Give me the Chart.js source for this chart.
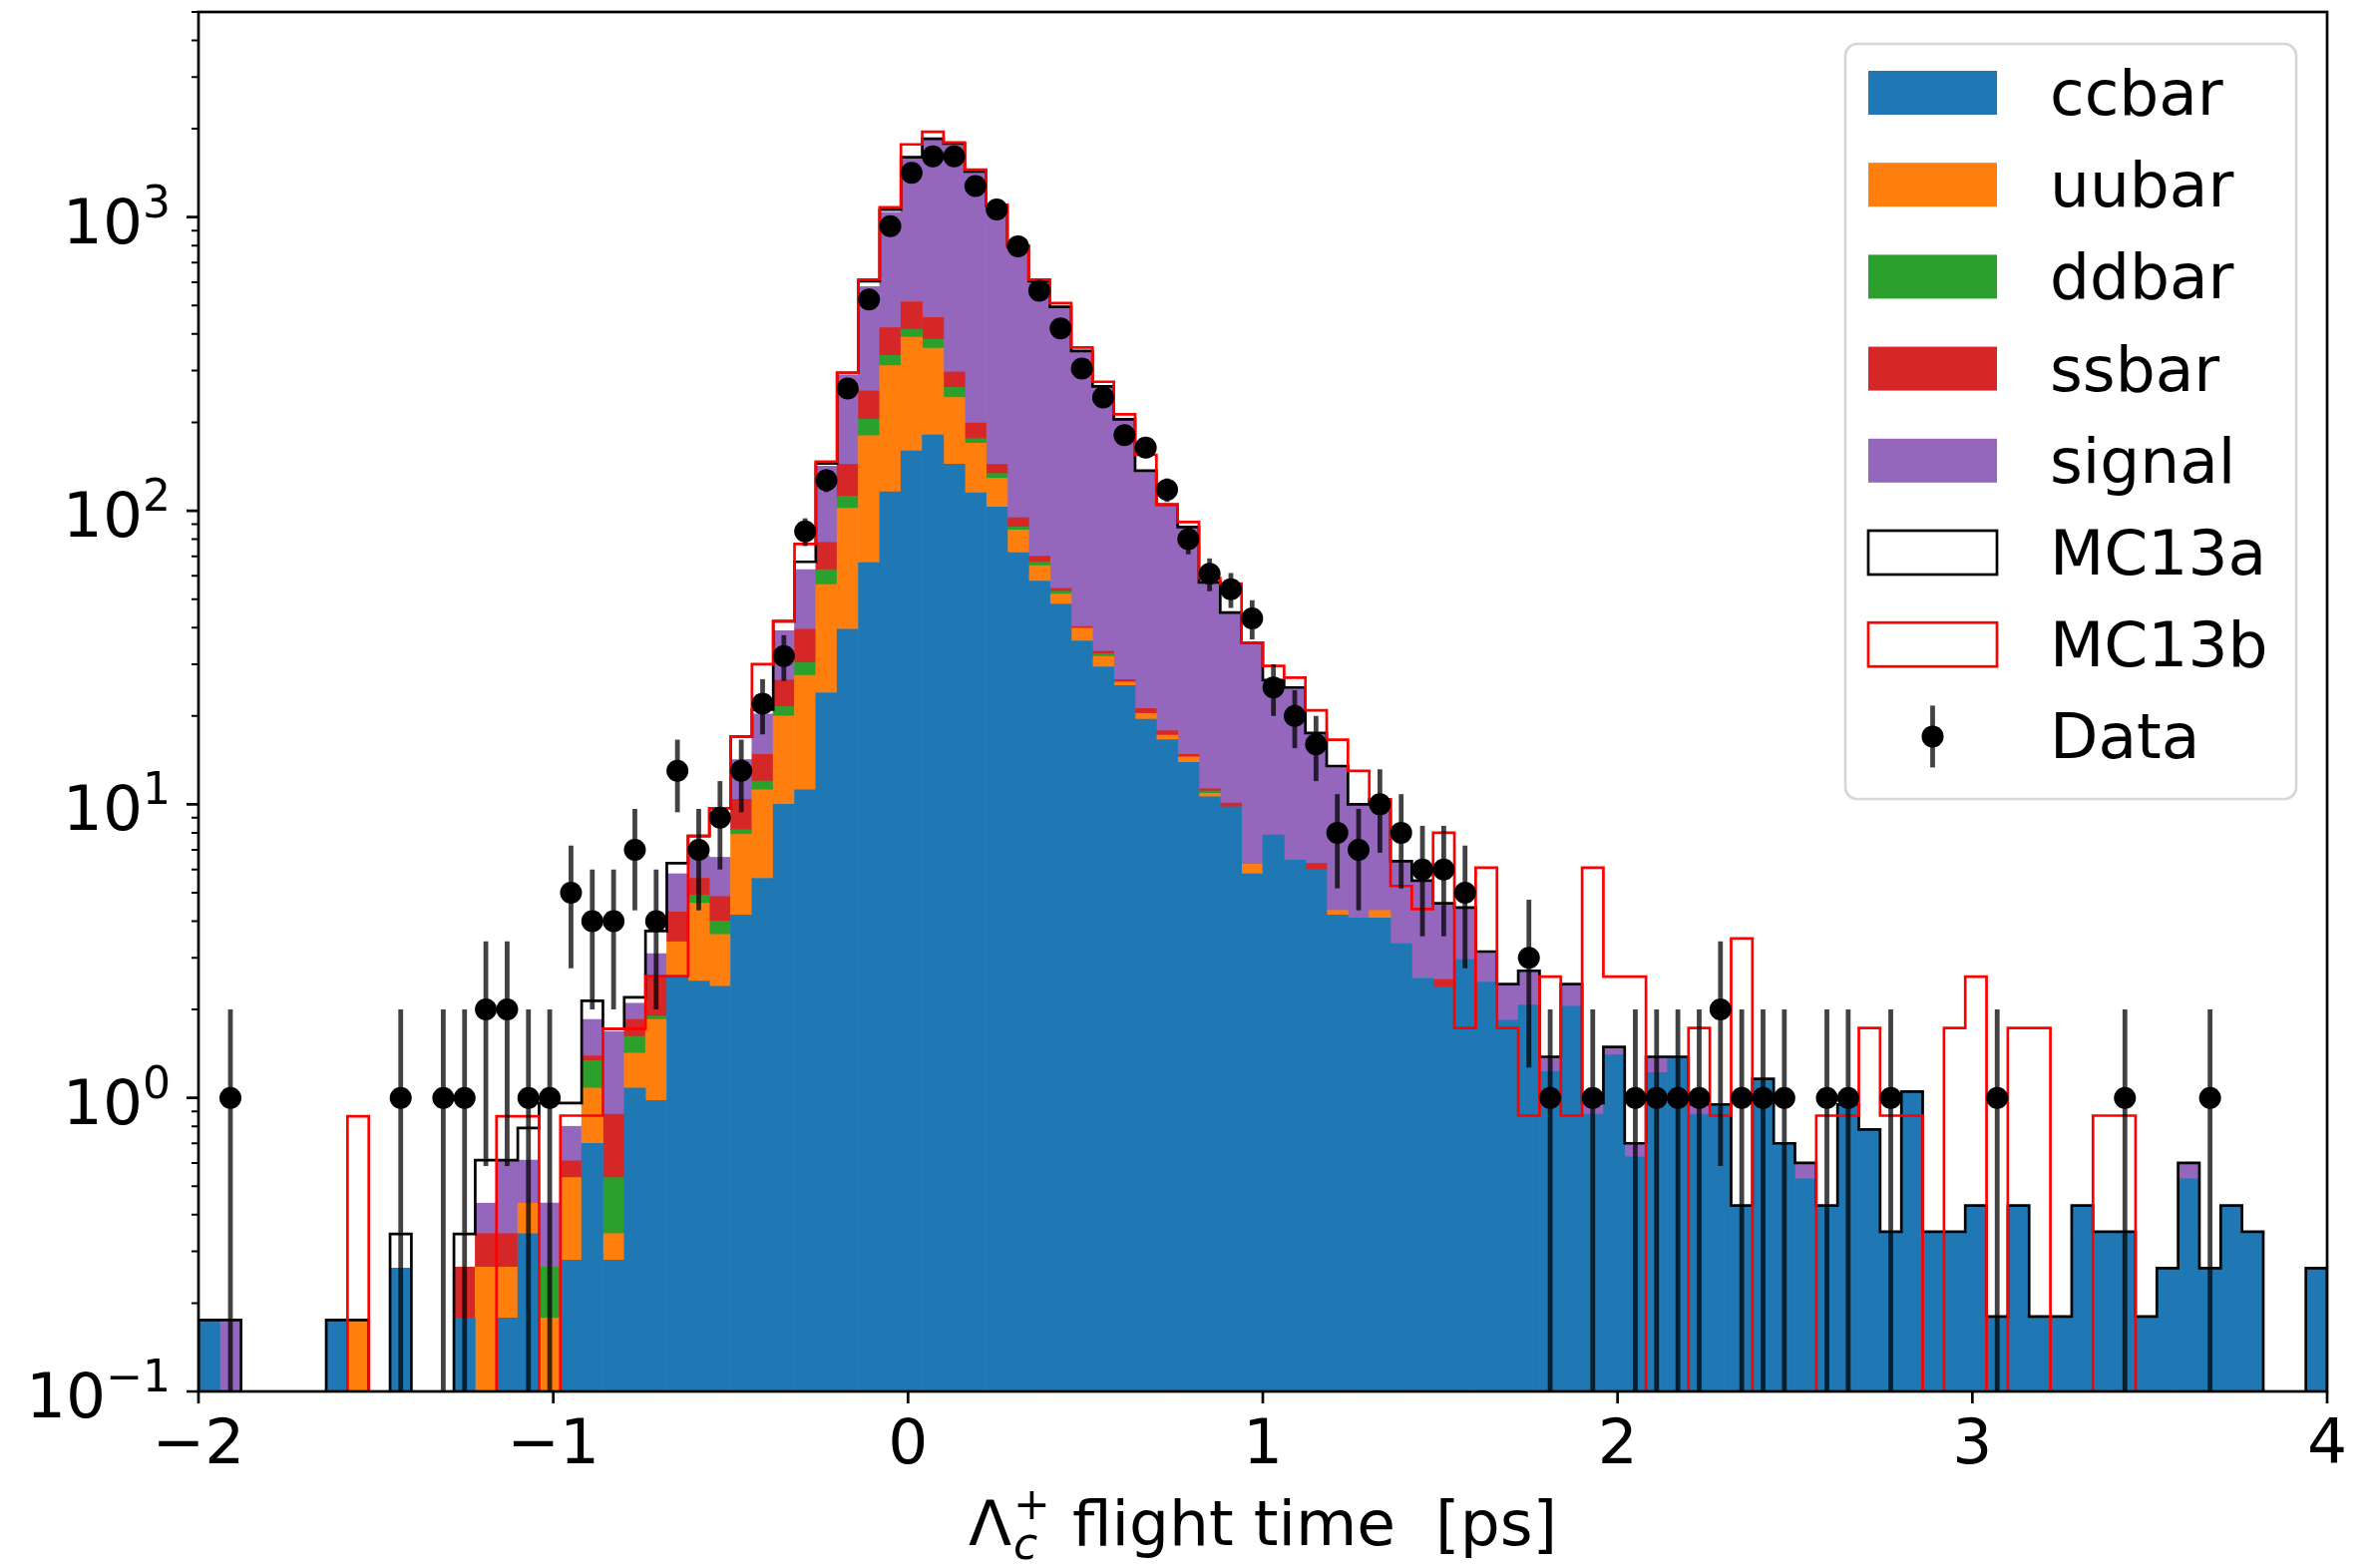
<!DOCTYPE html>
<html>
<head>
<meta charset="utf-8">
<title>Lambda_c flight time</title>
<script src="https://cdn.jsdelivr.net/npm/chart.js@4.4.1/dist/chart.umd.min.js"></script>
<style>
  html, body { margin: 0; padding: 0; background: #fff; }
  #wrap { position: relative; width: 2386px; height: 1570px; }
</style>
</head>
<body>
<div id="wrap"><canvas id="flightTime"></canvas></div>
<script>
// binning of the flight-time histogram (100 bins of 0.06 ps)
const BIN_LOW = -2;
const BIN_WIDTH = 0.06;
const X_TICKS = [-2, -1, 0, 1, 2, 3, 4];
const Y_DECADES = [-1, 0, 1, 2, 3];
const Y_MIN = 0.1;
const Y_MAX = 5000;

// stacked MC components, weighted entries per bin
const CCBAR = [
  .175, 0, 0, 0, 0, 0, .175, 0, 0, .263,
  0, 0, .178, 0, .178, .345, 0, .28, .70, .28,
  1.08, .98, 2.6, 2.5, 2.4, 4.2, 5.6, 10, 11.2, 24,
  39.5, 66.5, 116, 160, 181, 144, 115, 103, 72, 57.6,
  48.1, 36, 29.4, 25.4, 19.5, 16.6, 13.9, 10.6, 9.8, 5.8,
  7.86, 6.45, 6.0, 4.2, 4.1, 4.1, 3.35, 2.56, 2.38, 2.97,
  2.48, 1.84, 2.07, 1.23, 2.05, .88, 1.40, .63, 1.22, 1.38,
  .88, .95, .43, 1.16, .70, .53, .43, .95, .78, .35,
  1.05, .35, .35, .43, .18, .43, .18, .18, .43, .35,
  .35, .18, .263, .53, .263, .43, .35, 0, 0, .263
];
const UUBAR = [
  0, 0, 0, 0, 0, 0, 0, .175, 0, 0,
  0, 0, 0, .265, .087, .093, .178, .255, .38, .065,
  .34, .87, .8, 2.1, 1.2, 3.7, 5.6, 10, 16.3, 32,
  62.5, 113.5, 196, 230, 177, 99, 55, 26, 14, 7.4,
  3.9, 3.8, 2.5, .7, .9, .6, .6, .3, 0, .45,
  0, 0, 0, .15, 0, .25, 0, 0, 0, 0,
  0, 0, 0, 0, 0, 0, 0, 0, 0, 0,
  0, 0, 0, 0, 0, 0, 0, 0, 0, 0,
  0, 0, 0, 0, 0, 0, 0, 0, 0, 0,
  0, 0, 0, 0, 0, 0, 0, 0, 0, 0
];
const DDBAR = [
  0, 0, 0, 0, 0, 0, 0, 0, 0, 0,
  0, 0, 0, 0, 0, 0, .087, 0, .26, .19,
  .2, .05, 0, .3, .4, .3, .8, 1.5, 2.9, 7,
  10, 25, 26, 25, 26, 20, 6, 5, 2, 2,
  1.2, 0, .7, 0, 0, 0, 0, .2, 0, 0,
  0, 0, 0, 0, 0, 0, 0, 0, 0, 0,
  0, 0, 0, 0, 0, 0, 0, 0, 0, 0,
  0, 0, 0, 0, 0, 0, 0, 0, 0, 0,
  0, 0, 0, 0, 0, 0, 0, 0, 0, 0,
  0, 0, 0, 0, 0, 0, 0, 0, 0, 0
];
const SSBAR = [
  0, 0, 0, 0, 0, 0, 0, 0, 0, 0,
  0, 0, .087, .08, .08, 0, 0, .075, .05, .345,
  .23, .7, .9, .7, .85, 2.2, 2.8, 5, 9.1, 15,
  32, 51, 82, 100, 71, 34, 23, 10, 6.7, 3,
  1.2, .5, .6, .5, .8, .6, .3, .2, .3, 0,
  0, 0, .3, 0, 0, 0, 0, 0, .15, 0,
  0, 0, 0, 0, 0, 0, 0, 0, 0, 0,
  0, 0, 0, 0, 0, 0, 0, 0, 0, 0,
  0, 0, 0, 0, 0, 0, 0, 0, 0, 0,
  0, 0, 0, 0, 0, 0, 0, 0, 0, 0
];
const SIGNAL = [
  0, .175, 0, 0, 0, 0, 0, 0, 0, 0,
  0, 0, 0, .093, .27, .176, .173, .19, .46, .8,
  .25, .5, 1.5, 1.1, 1.75, 3.8, 5.5, 12.5, 23.5, 64,
  146, 324, 620, 1075, 1385, 1473, 1221, 946, 695, 530,
  440, 310, 232, 178, 116, 87, 73, 46, 35, 29,
  18.6, 18.5, 11.2, 9.2, 5.9, 6.1, 3.05, 2.94, 2.07, 1.48,
  .67, .6, .64, .15, .39, .08, .09, .07, .16, 0,
  .07, 0, 0, 0, 0, .07, 0, 0, 0, 0,
  0, 0, 0, 0, 0, 0, 0, 0, 0, 0,
  0, 0, 0, .07, 0, 0, 0, 0, 0, 0
];

// total MC of the two campaigns, drawn as step outlines
const MC13A = [
  .175, .175, 0, 0, 0, 0, .175, .175, 0, .344,
  0, 0, .344, .614, .614, .79, .96, .96, 2.14, 1.72,
  2.2, 3.7, 6.3, 7.8, 9.7, 17, 21, 42, 67, 145,
  295, 605, 1060, 1600, 1850, 1780, 1430, 1095, 800, 605,
  495, 350, 265, 205, 137, 105, 88, 57, 45, 35.5,
  26.5, 25, 17.5, 13.5, 10, 10.4, 6.4, 5.5, 4.6, 4.45,
  3.15, 2.44, 2.71, 1.38, 2.44, .96, 1.49, .70, 1.38, 1.38,
  .95, .95, .43, 1.16, .70, .60, .43, .95, .78, .35,
  1.05, .35, .35, .43, .18, .43, .18, .18, .43, .35,
  .35, .18, .263, .60, .263, .43, .35, 0, 0, .263
];
const MC13B = [
  0, 0, 0, 0, 0, 0, 0, .865, 0, 0,
  0, 0, 0, 0, .865, .865, 0, .87, .87, 1.72,
  1.72, 2.6, 2.6, 7.8, 9.7, 17, 30, 42, 77, 147,
  295, 613, 1080, 1770, 1953, 1795, 1452, 1102, 790, 613,
  510, 360, 275, 213, 155, 105, 91.5, 59, 56.5, 35.5,
  29.6, 27, 20.9, 16.6, 13, 10.4, 5.27, 4.4, 8.0, 1.73,
  6.08, 1.73, .87, 2.59, .87, 6.08, 2.59, 2.59, 0, 0,
  1.73, .87, 3.49, 0, 0, 0, .87, .87, 1.73, .87,
  .87, 0, 1.73, 2.59, 0, 1.73, 1.73, 0, 0, .87,
  .87, 0, 0, 0, 0, 0, 0, 0, 0, 0
];

// data counts per bin
const DATA = [
  0, 1, 0, 0, 0, 0, 0, 0, 0, 1,
  0, 1, 1, 2, 2, 1, 1, 5, 4, 4,
  7, 4, 13, 7, 9, 13, 22, 32, 85, 127,
  261, 524, 932, 1417, 1612, 1612, 1276, 1062, 796, 562,
  418, 305, 243, 181, 164, 118, 80, 61, 54, 43,
  25, 20, 16, 8, 7, 10, 8, 6, 6, 5,
  0, 0, 3, 1, 0, 1, 0, 1, 1, 1,
  1, 2, 1, 1, 1, 0, 1, 1, 0, 1,
  0, 0, 0, 0, 1, 0, 0, 0, 0, 0,
  1, 0, 0, 0, 1, 0, 0, 0, 0, 0
];

const FONT = '"DejaVu Sans", sans-serif';
const TEXT_PX = 63;
const SCRIPT_PX = 44;
const MAJOR_TICK = 12;
const MINOR_TICK = 7;
const MARKER_R = 11;
const BAR_LW = 4.8;
const BELOW_AXIS = 1e-3; // empty bins on the log axis: pushed under the frame

const STACK = [
  { label: "ccbar", values: CCBAR, color: "#1f77b4" },
  { label: "uubar", values: UUBAR, color: "#ff7f0e" },
  { label: "ddbar", values: DDBAR, color: "#2ca02c" },
  { label: "ssbar", values: SSBAR, color: "#d62728" },
  { label: "signal", values: SIGNAL, color: "#9467bd" }
];

const binCenters = CCBAR.map((_, i) => +(BIN_LOW + BIN_WIDTH * (i + 0.5)).toFixed(2));

// histtype=step style outline: corners at every bin edge
function stepOutline(values) {
  const pts = [{ x: BIN_LOW, y: BELOW_AXIS }];
  values.forEach((v, i) => {
    const lo = BIN_LOW + BIN_WIDTH * i;
    const y = v > 0 ? v : BELOW_AXIS;
    pts.push({ x: lo, y }, { x: lo + BIN_WIDTH, y });
  });
  pts.push({ x: BIN_LOW + BIN_WIDTH * values.length, y: BELOW_AXIS });
  return pts;
}

const datasets = STACK.map(s => ({
  type: "bar",
  label: s.label,
  data: binCenters.map((x, i) => ({ x, y: s.values[i] > 0 ? s.values[i] : null })),
  backgroundColor: s.color,
  borderWidth: 0,
  stack: "mc",
  order: 3,
  barPercentage: 1,
  categoryPercentage: 1
}));

datasets.push({
  type: "line",
  label: "MC13a",
  data: stepOutline(MC13A),
  borderColor: "#000000",
  borderWidth: 2.7,
  pointRadius: 0,
  tension: 0,
  fill: false,
  order: 2
});

datasets.push({
  type: "line",
  label: "MC13b",
  data: stepOutline(MC13B),
  borderColor: "#ff0000",
  borderWidth: 2.7,
  pointRadius: 0,
  tension: 0,
  fill: false,
  order: 1
});

const DATA_DS = datasets.length;
datasets.push({
  type: "line",
  label: "Data",
  data: binCenters.map((x, i) => ({ x, y: DATA[i] })).filter(p => p.y > 0),
  showLine: false,
  pointRadius: MARKER_R,
  pointBackgroundColor: "#000000",
  pointBorderWidth: 0,
  order: 0
});

function drawErrorBars(chart) {
  const { ctx, chartArea: a, scales: { x, y } } = chart;
  ctx.save();
  ctx.beginPath();
  ctx.rect(a.left, a.top, a.right - a.left, a.bottom - a.top);
  ctx.clip();
  ctx.strokeStyle = "rgba(0,0,0,0.74)";
  ctx.lineWidth = BAR_LW;
  DATA.forEach((n, i) => {
    if (!n) return;
    const err = Math.sqrt(n);
    const px = x.getPixelForValue(binCenters[i]);
    const yLo = n - err > 0 ? y.getPixelForValue(n - err) : a.bottom + 10;
    const yHi = y.getPixelForValue(n + err);
    ctx.beginPath();
    ctx.moveTo(px, yLo);
    ctx.lineTo(px, yHi);
    ctx.stroke();
  });
  ctx.restore();
}

function drawFrame(chart) {
  const { ctx, chartArea: a, scales: { x, y } } = chart;
  ctx.save();
  ctx.strokeStyle = "#000";
  ctx.lineWidth = 2.7;
  ctx.strokeRect(a.left, a.top, a.right - a.left, a.bottom - a.top);

  ctx.beginPath();
  X_TICKS.forEach(t => {
    const px = x.getPixelForValue(t);
    ctx.moveTo(px, a.bottom);
    ctx.lineTo(px, a.bottom + MAJOR_TICK);
  });
  Y_DECADES.forEach(d => {
    const py = y.getPixelForValue(Math.pow(10, d));
    ctx.moveTo(a.left, py);
    ctx.lineTo(a.left - MAJOR_TICK, py);
  });
  ctx.stroke();

  ctx.lineWidth = 2;
  ctx.beginPath();
  Y_DECADES.forEach(d => {
    for (let k = 2; k <= 9; k++) {
      const v = k * Math.pow(10, d);
      if (v > Y_MAX) break;
      const py = y.getPixelForValue(v);
      ctx.moveTo(a.left, py);
      ctx.lineTo(a.left - MINOR_TICK, py);
    }
  });
  ctx.stroke();

  // x tick labels
  ctx.fillStyle = "#000";
  ctx.font = `${TEXT_PX}px ${FONT}`;
  ctx.textAlign = "center";
  ctx.textBaseline = "alphabetic";
  X_TICKS.forEach(t => {
    const txt = t < 0 ? "\u2212" + Math.abs(t) : String(t);
    ctx.fillText(txt, x.getPixelForValue(t), a.bottom + 72);
  });

  // y tick labels, 10 with raised exponent
  ctx.textAlign = "left";
  Y_DECADES.forEach(d => {
    const py = y.getPixelForValue(Math.pow(10, d));
    const sup = d < 0 ? "\u2212" + Math.abs(d) : String(d);
    ctx.font = `${TEXT_PX}px ${FONT}`;
    const wBase = ctx.measureText("10").width;
    ctx.font = `${SCRIPT_PX}px ${FONT}`;
    const wSup = ctx.measureText(sup).width;
    const right = a.left - MAJOR_TICK - 16;
    const x0 = right - wBase - wSup;
    const base = py + 26;
    ctx.font = `${TEXT_PX}px ${FONT}`;
    ctx.fillText("10", x0, base);
    ctx.font = `${SCRIPT_PX}px ${FONT}`;
    ctx.fillText(sup, x0 + wBase, base - 26);
  });

  // x axis title: Lambda_c^+ flight time [ps]
  const rest = " flight time  [ps]";
  ctx.font = `${TEXT_PX}px ${FONT}`;
  const wLam = ctx.measureText("\u039b").width;
  const wRest = ctx.measureText(rest).width;
  ctx.font = `italic ${SCRIPT_PX}px ${FONT}`;
  const wSub = ctx.measureText("c").width;
  ctx.font = `${SCRIPT_PX}px ${FONT}`;
  const wSupT = ctx.measureText("+").width;
  const wScript = Math.max(wSub, wSupT) + 4;
  const total = wLam + wScript + wRest;
  const cx = (a.left + a.right) / 2;
  const tx = cx - total / 2;
  const tb = 1549;
  ctx.font = `${TEXT_PX}px ${FONT}`;
  ctx.fillText("\u039b", tx, tb);
  ctx.font = `italic ${SCRIPT_PX}px ${FONT}`;
  ctx.fillText("c", tx + wLam + 2, tb + 14);
  ctx.font = `${SCRIPT_PX}px ${FONT}`;
  ctx.fillText("+", tx + wLam + 2, tb - 26);
  ctx.font = `${TEXT_PX}px ${FONT}`;
  ctx.fillText(rest, tx + wLam + wScript, tb);
  ctx.restore();
}

const LEGEND_ITEMS = [
  ...STACK.map(s => ({ label: s.label, fill: s.color })),
  { label: "MC13a", edge: "#000000" },
  { label: "MC13b", edge: "#ff0000" },
  { label: "Data", marker: true }
];

function drawLegend(chart) {
  const { ctx, chartArea: a } = chart;
  const w = 452, h = 757, r = 12;
  const left = a.right - 31 - w;
  const top = a.top + 32;
  ctx.save();
  ctx.beginPath();
  ctx.moveTo(left + r, top);
  ctx.arcTo(left + w, top, left + w, top + h, r);
  ctx.arcTo(left + w, top + h, left, top + h, r);
  ctx.arcTo(left, top + h, left, top, r);
  ctx.arcTo(left, top, left + w, top, r);
  ctx.closePath();
  ctx.fillStyle = "rgba(255,255,255,0.8)";
  ctx.fill();
  ctx.strokeStyle = "#d6d6d6";
  ctx.lineWidth = 2.7;
  ctx.stroke();

  const hx = left + 23, hw = 129, hh = 44;
  LEGEND_ITEMS.forEach((item, k) => {
    const cy = top + 49 + 92.2 * k;
    if (item.fill) {
      ctx.fillStyle = item.fill;
      ctx.fillRect(hx, cy - hh / 2, hw, hh);
    } else if (item.edge) {
      ctx.strokeStyle = item.edge;
      ctx.lineWidth = 2.7;
      ctx.strokeRect(hx, cy - hh / 2, hw, hh);
    } else if (item.marker) {
      const mx = hx + hw / 2;
      ctx.strokeStyle = "rgba(0,0,0,0.74)";
      ctx.lineWidth = BAR_LW;
      ctx.beginPath();
      ctx.moveTo(mx, cy - 31);
      ctx.lineTo(mx, cy + 31);
      ctx.stroke();
      ctx.fillStyle = "#000";
      ctx.beginPath();
      ctx.arc(mx, cy, MARKER_R, 0, Math.PI * 2);
      ctx.fill();
    }
    ctx.fillStyle = "#000";
    ctx.font = `${TEXT_PX}px ${FONT}`;
    ctx.textAlign = "left";
    ctx.textBaseline = "alphabetic";
    ctx.fillText(item.label, left + 205, cy + 22);
  });
  ctx.restore();
}

const histDecor = {
  id: "histDecor",
  beforeDatasetDraw(chart, args) {
    if (args.index === DATA_DS) drawErrorBars(chart);
  },
  afterDatasetsDraw(chart) {
    drawFrame(chart);
  },
  afterDraw(chart) {
    drawLegend(chart);
  }
};

new Chart(document.getElementById("flightTime"), {
  type: "bar",
  data: { datasets },
  plugins: [histDecor],
  options: {
    responsive: true,
    maintainAspectRatio: false,
    devicePixelRatio: 1,
    animation: false,
    events: [],
    layout: { padding: { left: 0, top: 12, right: 53, bottom: 0 } },
    plugins: {
      legend: { display: false },
      tooltip: { enabled: false },
      title: { display: false }
    },
    scales: {
      x: {
        type: "linear",
        min: X_TICKS[0],
        max: X_TICKS[X_TICKS.length - 1],
        offset: false,
        grid: { display: false, offset: false },
        border: { display: false },
        ticks: { display: false },
        afterFit: s => { s.height = 175; }
      },
      y: {
        type: "logarithmic",
        min: Y_MIN,
        max: Y_MAX,
        grid: { display: false },
        border: { display: false },
        ticks: { display: false },
        afterFit: s => { s.width = 199; }
      }
    }
  }
});
</script>
</body>
</html>
